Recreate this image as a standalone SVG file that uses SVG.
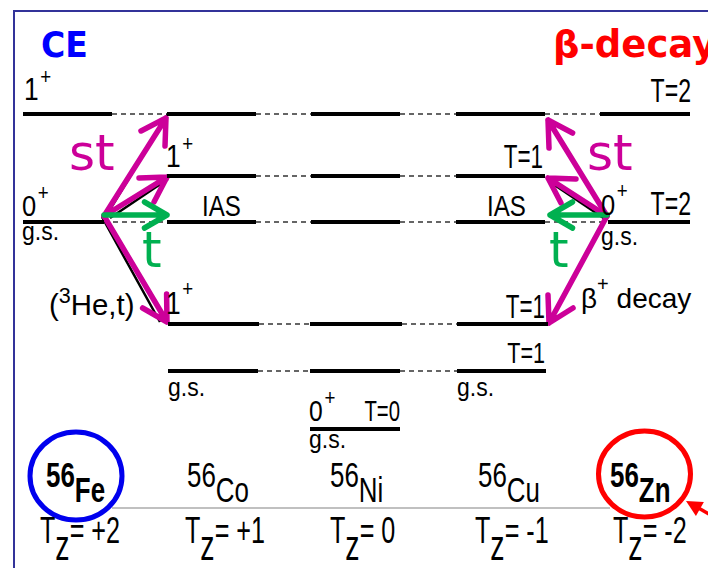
<svg xmlns="http://www.w3.org/2000/svg" width="708" height="568" viewBox="0 0 708 568">
<style>
.lv{stroke:#000;stroke-width:4;fill:none}
.ds{stroke:#333;stroke-width:1.5;stroke-dasharray:5 4;fill:none}
.n{font-family:"Liberation Sans",Arial,sans-serif;fill:#000}
.mg{stroke:#cc0099;stroke-width:5.5;fill:none;stroke-linecap:round;stroke-linejoin:round}
.gr{stroke:#00b050;stroke-width:5.5;fill:none;stroke-linecap:round;stroke-linejoin:round}
.bk{stroke:#000;stroke-width:2.5;fill:none}
.big{font-family:"DejaVu Sans",Verdana,sans-serif}
</style>
<rect width="708" height="568" fill="#fff"/>
<path d="M14 568V11H708" stroke="#333399" stroke-width="2" fill="none"/>
<text class="big" font-weight="bold" font-size="36" fill="#0000ff" transform="translate(41,57) scale(0.92,1)">CE</text>
<text class="big" font-weight="bold" font-size="37" fill="#ff0000" x="553" y="57">β-decay</text>

<g id="connectors">
<path class="ds" d="M112 114H167M256 114H311M400 114H456M545 114H600"/>
<path class="ds" d="M256 176H311M400 176H456"/>
<path class="ds" d="M104 222H167M256 222H311M400 222H456M545 222H608"/>
<path class="ds" d="M259 324H310M402 324H457"/>
<path class="ds" d="M258 371H310M400 371H457"/>
<line x1="112" y1="508" x2="610" y2="508" stroke="#c0c0c0" stroke-width="2"/>
<!-- black underlying arrows -->
<path class="bk" d="M106 216L168 114M110 218L168 179M102 217L160 322"/>
<path class="bk" d="M605 219L550 182"/>
<!-- left arrows -->
<path class="mg" d="M104 216L166 118M141 131L166 118L165 146"/>
<path class="mg" d="M104 216L167 177M139 178L167 177L154 202"/>
<path class="mg" d="M104 216L167 322M166.6 294L167 322L142.6 308"/>
<path class="gr" d="M104 215L167 215M144.5 202L167 215L144.5 228"/>
<!-- right arrows -->
<path class="mg" d="M607 216L548 120M549 148L548 120L572.6 133"/>
<path class="mg" d="M607 216L548 178M561 203L548 178L576 179"/>
<path class="mg" d="M607 216L549 323M573 308L549 323L548 295"/>
<path class="gr" d="M607 215L550 215M572.5 202L550 215L572.5 228"/>
<!-- red pointer -->
<line x1="714" y1="517" x2="695" y2="506" stroke="#ff0000" stroke-width="3.5"/>
<polygon points="686,501 703.9,502.1 695.9,515.9" fill="#ff0000"/>
</g>

<text class="big" font-size="50" fill="#cc0099" x="69" y="170">st</text>
<text class="big" font-size="50" fill="#cc0099" x="587" y="170">st</text>
<text class="big" font-size="50" fill="#00b050" x="142" y="267">t</text>
<text class="big" font-size="50" fill="#00b050" x="549" y="267">t</text>

<g id="fe">
<path class="lv" d="M23 114H112M23 222H104"/>
<text class="n" font-size="31" transform="translate(24,100) scale(0.85,1)">1<tspan font-size="22" dx="2" dy="-16">+</tspan></text>
<text class="n" font-size="30" transform="translate(22,216) scale(0.85,1)">0<tspan font-size="22" dx="2" dy="-16">+</tspan></text>
<text class="n" font-size="25" transform="translate(22,240) scale(0.92,1)">g.s.</text>
<text class="n" font-size="30" transform="translate(49,315) scale(0.98,1)">(<tspan font-size="22" dy="-12">3</tspan><tspan dy="12">He,t)</tspan></text>
<ellipse cx="76" cy="476" rx="46" ry="44" fill="#fff" stroke="#0000ee" stroke-width="5"/>
<text class="n" font-size="36" font-weight="bold" transform="translate(46,487) scale(0.72,1)">56<tspan dy="15">Fe</tspan></text>
<text class="n" font-size="37" transform="translate(40,543) scale(0.68,1)">T<tspan font-size="42" dy="17">z</tspan><tspan dy="-17">= +2</tspan></text>
</g>

<g id="co">
<path class="lv" d="M167 114H256M167 176H256M167 222H256M168 324H259M168 371H258"/>
<text class="n" font-size="31" transform="translate(166,167) scale(0.85,1)">1<tspan font-size="22" dx="2" dy="-16">+</tspan></text>
<text class="n" font-size="29" transform="translate(202,216) scale(0.83,1)">IAS</text>
<text class="n" font-size="31" transform="translate(166,314) scale(0.85,1)">1<tspan font-size="22" dx="2" dy="-18">+</tspan></text>
<text class="n" font-size="25" transform="translate(168,396) scale(0.92,1)">g.s.</text>
<text class="n" font-size="36" transform="translate(187,487) scale(0.72,1)">56<tspan dy="15">Co</tspan></text>
<text class="n" font-size="37" transform="translate(185,543) scale(0.68,1)">T<tspan font-size="42" dy="17">z</tspan><tspan dy="-17">= +1</tspan></text>
</g>

<g id="ni">
<path class="lv" d="M311 114H400M311 176H400M311 222H400M310 324H402M310 371H400M310 429H400"/>
<text class="n" font-size="29" transform="translate(309,421) scale(0.85,1)">0<tspan font-size="22" dx="2" dy="-16">+</tspan></text>
<text class="n" font-size="29" text-anchor="end" transform="translate(400,421) scale(0.7,1)">T=0</text>
<text class="n" font-size="25" transform="translate(309,448) scale(0.92,1)">g.s.</text>
<text class="n" font-size="36" transform="translate(330,487) scale(0.72,1)">56<tspan dy="15">Ni</tspan></text>
<text class="n" font-size="37" transform="translate(330,543) scale(0.68,1)">T<tspan font-size="42" dy="17">z</tspan><tspan dy="-17">= 0</tspan></text>
</g>

<g id="cu">
<path class="lv" d="M456 114H545M456 176H545M456 222H545M457 324H548M457 371H546"/>
<text class="n" font-size="33" text-anchor="end" transform="translate(543,168) scale(0.68,1)">T=1</text>
<text class="n" font-size="29" transform="translate(487,216) scale(0.83,1)">IAS</text>
<text class="n" font-size="33" text-anchor="end" transform="translate(545,318) scale(0.68,1)">T=1</text>
<text class="n" font-size="30" text-anchor="end" transform="translate(545,363) scale(0.72,1)">T=1</text>
<text class="n" font-size="25" transform="translate(457,396) scale(0.92,1)">g.s.</text>
<text class="n" font-size="36" transform="translate(478,487) scale(0.72,1)">56<tspan dy="15">Cu</tspan></text>
<text class="n" font-size="37" transform="translate(475,543) scale(0.68,1)">T<tspan font-size="42" dy="17">z</tspan><tspan dy="-17">= -1</tspan></text>
</g>

<g id="zn">
<path class="lv" d="M600 114H690M608 222H690"/>
<text class="n" font-size="34" text-anchor="end" transform="translate(691,102) scale(0.68,1)">T=2</text>
<text class="n" font-size="30" transform="translate(601,215) scale(0.85,1)">0<tspan font-size="22" dx="2" dy="-17">+</tspan></text>
<text class="n" font-size="34" text-anchor="end" transform="translate(691,215) scale(0.68,1)">T=2</text>
<text class="n" font-size="25" transform="translate(601,245) scale(0.92,1)">g.s.</text>
<text class="n" font-size="28" x="581" y="308">β<tspan font-size="20" dy="-17">+</tspan><tspan dy="17"> decay</tspan></text>
<ellipse cx="644.5" cy="474" rx="46" ry="43" fill="#fff" stroke="#ff0000" stroke-width="5"/>
<text class="n" font-size="36" font-weight="bold" transform="translate(610,487) scale(0.72,1)">56<tspan dy="15">Zn</tspan></text>
<text class="n" font-size="37" transform="translate(613,543) scale(0.68,1)">T<tspan font-size="42" dy="17">z</tspan><tspan dy="-17">= -2</tspan></text>
</g>
</svg>
